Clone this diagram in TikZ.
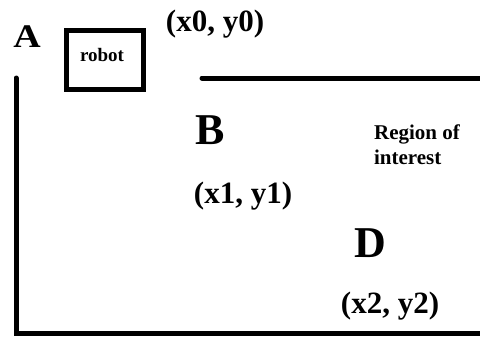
\documentclass[tikz,border=0pt]{standalone}
\usepackage{fontspec}
\setmainfont{Liberation Serif}
\tikzset{
  wall/.style={line width=5pt, line cap=round},
  lbl/.style={inner sep=0pt, font=\bfseries},
}
\newcommand{\fsz}[1]{\fontsize{#1}{#1}\selectfont}
\begin{document}
\begin{tikzpicture}[x=1pt,y=-1pt]
\useasboundingbox (0,0) rectangle (480,341);
\node[lbl, font=\bfseries\fsz{33}, xscale=1.15] (A) at (27,37) {A};
\node[draw, line width=5pt, minimum width=77pt, minimum height=59pt, inner sep=0pt] (robot) at (105,60) {};
\node[lbl, font=\bfseries\fsz{19}] (robottxt) at (102,55) {robot};
\node[lbl, font=\bfseries\fsz{31}] (p0) at (215,24) {(x0, y0)};
\coordinate (tl) at (16,78);
\coordinate (bl) at (16,333);
\coordinate (br) at (482,333);
\draw[wall] (tl) -- (bl) -- (br);
\coordinate (ts) at (202,78);
\coordinate (te) at (482,78);
\draw[wall] (ts) -- (te);
\node[lbl, font=\bfseries\fsz{44}] (B) at (210,130) {B};
\node[lbl, font=\bfseries\fontsize{21}{25}\selectfont, align=left] (roi) at (417,145) {Region of\\interest};
\node[lbl, font=\bfseries\fsz{31}] (p1) at (243,196) {(x1, y1)};
\node[lbl, font=\bfseries\fsz{44}] (D) at (370,243) {D};
\node[lbl, font=\bfseries\fsz{31}] (p2) at (390,306) {(x2, y2)};
\end{tikzpicture}
\end{document}
